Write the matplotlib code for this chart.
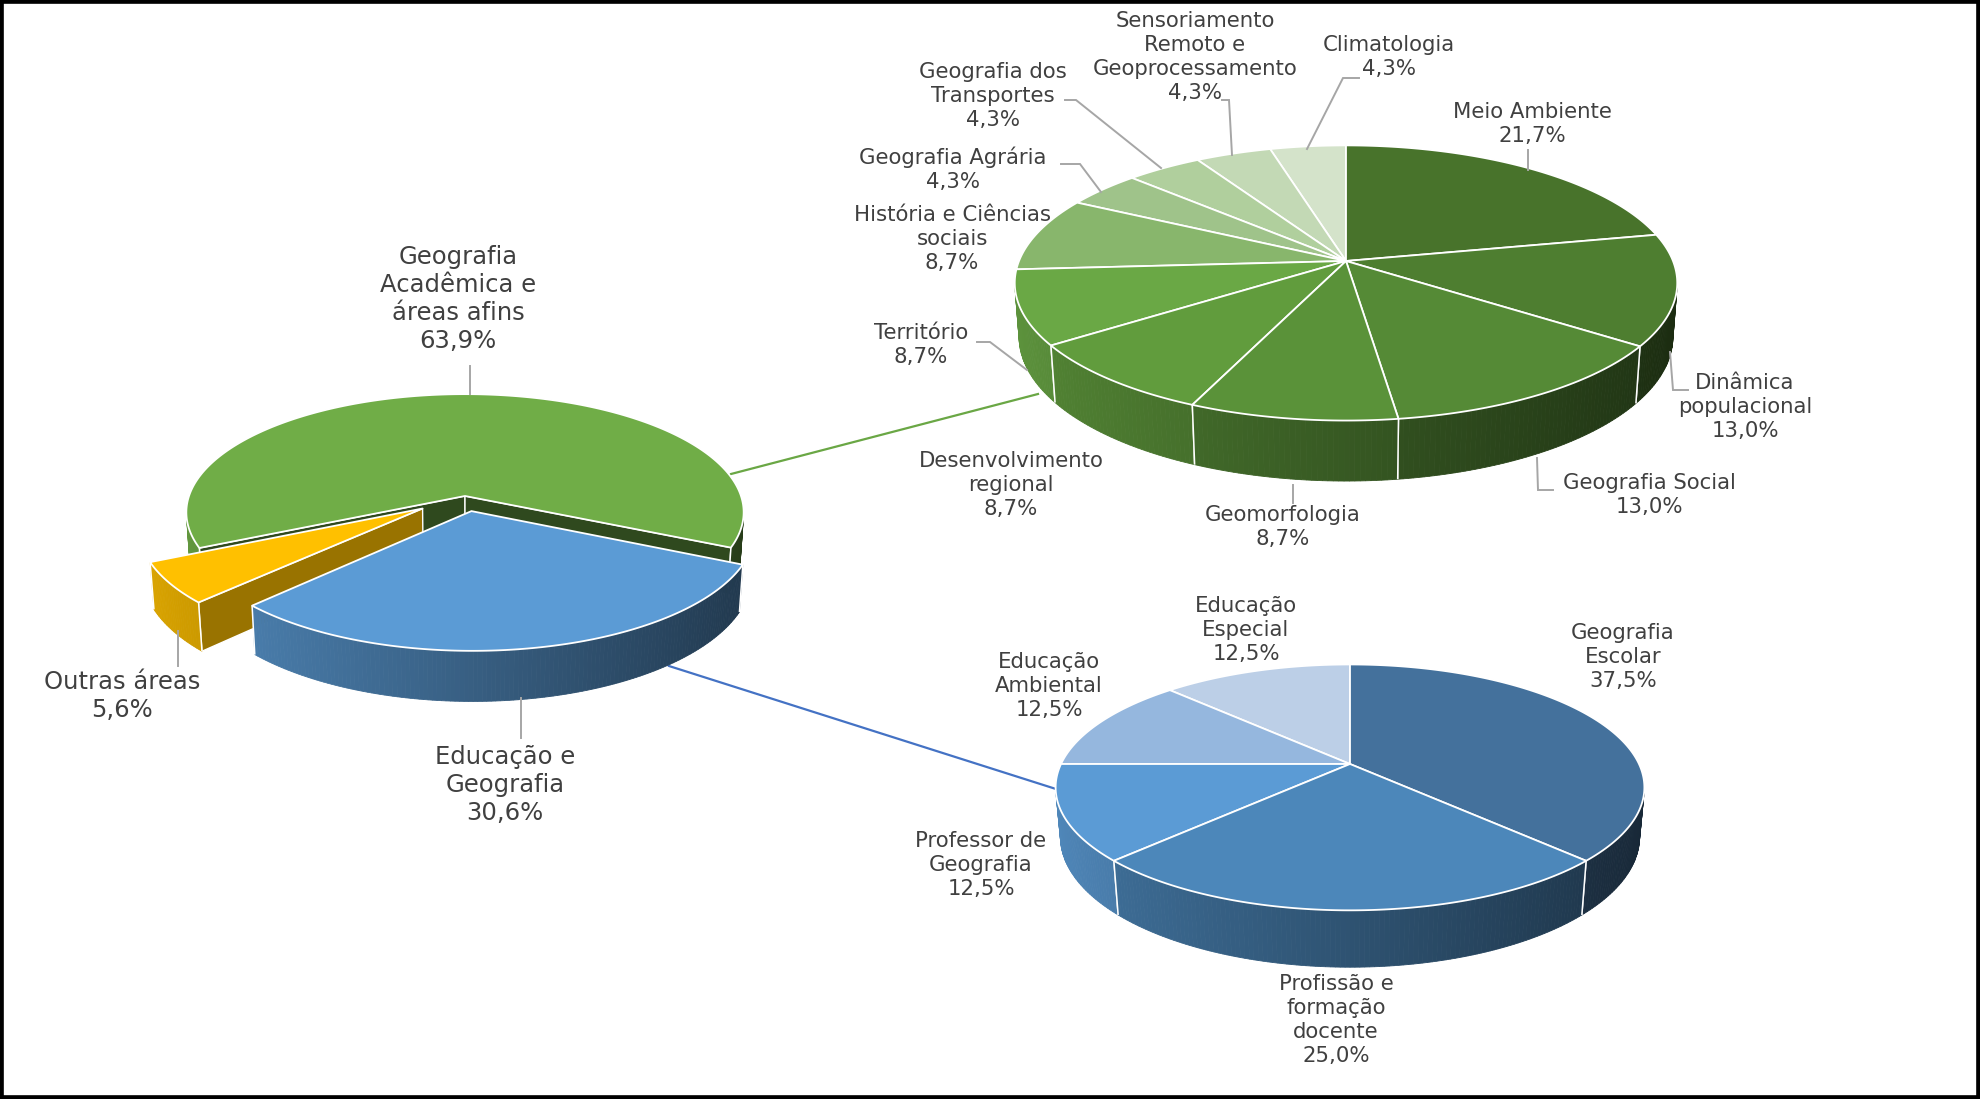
import math

import matplotlib

matplotlib.use("Agg")

import matplotlib.pyplot as plt
import numpy as np
from matplotlib.colors import to_rgb
from matplotlib.patches import Polygon, Rectangle


# ---- data -------------------------------------------------------------
MAIN_LABELS = ["Geografia\nAcadêmica e\náreas afins", "Educação e\nGeografia", "Outras áreas"]
MAIN_VALUES = [63.9, 30.6, 5.6]
MAIN_COLORS = ["#70ad47", "#5b9bd5", "#ffc000"]

ACAD_LABELS = [
    "Meio Ambiente",
    "Dinâmica\npopulacional",
    "Geografia Social",
    "Geomorfologia",
    "Desenvolvimento\nregional",
    "Território",
    "História e Ciências\nsociais",
    "Geografia Agrária",
    "Geografia dos\nTransportes",
    "Sensoriamento\nRemoto e\nGeoprocessamento",
    "Climatologia",
]
ACAD_VALUES = [21.7, 13.0, 13.0, 8.7, 8.7, 8.7, 8.7, 4.3, 4.3, 4.3, 4.3]
ACAD_COLORS = ["#48732b", "#4e7e30", "#558a36", "#5a9239", "#619c3d", "#6aa845",
               "#88b66c", "#9fc38a", "#b0cf9d", "#c3d9b5", "#d4e3ca"]

EDU_LABELS = ["Geografia\nEscolar", "Profissão e\nformação\ndocente", "Professor de\nGeografia",
              "Educação\nAmbiental", "Educação\nEspecial"]
EDU_VALUES = [37.5, 25.0, 12.5, 12.5, 12.5]
EDU_COLORS = ["#44719c", "#4c87ba", "#5b9bd5", "#95b7de", "#bccfe7"]


TEXT_COLOR = "#404040"
LEADER_COLOR = "#a6a6a6"
BIG_FONT = 17.5
SMALL_FONT = 15.3


def pct(v: float) -> str:
    return f"{v:.1f}%".replace(".", ",")


def make_pie(cx, cy, radius, sin_e, persp, height, start, explode=None, radial=None):
    ce = math.sqrt(1 - sin_e**2)
    return {
        "cx": cx, "cy": cy, "r": radius, "se": sin_e, "ce": ce,
        "d": ce * (persp + 1) / (persp - 1), "h": height, "start": start,
        "explode": explode, "radial": radial,
    }


def project(pie, x, y, z):
    depth = pie["d"] + y * pie["ce"] - z * pie["se"]
    p = pie["d"] / depth
    v = y * pie["se"] + z * pie["ce"]
    return pie["cx"] + pie["r"] * x * p, pie["cy"] - pie["r"] * v * p


def shade(color, f):
    return tuple(min(1.0, c * f) for c in to_rgb(color))


def draw_pie(ax, pie, values, colors):
    n = len(values)
    explode = pie["explode"] or [0.0] * n
    total = float(sum(values))
    edges = pie["start"] + np.concatenate([[0.0], np.cumsum(values)]) / total * 360.0
    dce = pie["d"] * pie["ce"]
    h = pie["h"]

    order = []
    for i in range(n):
        mid = math.radians((edges[i] + edges[i + 1]) / 2)
        ox, oy = explode[i] * math.sin(mid), explode[i] * math.cos(mid)
        order.append((oy + math.cos(mid), i, ox, oy))
    order.sort(key=lambda s: -s[0])

    for _, i, ox, oy in order:
        a0, a1 = math.radians(edges[i]), math.radians(edges[i + 1])
        col = colors[i]

        # cut faces, only visible when slices are pulled apart
        if any(explode):
            for a, sign in ((a0, 1), (a1, -1)):
                vis = sign * (ox * math.cos(a) - math.sin(a) * (dce + oy))
                if vis <= 0:
                    continue
                xs = np.array([ox, ox + math.sin(a), ox + math.sin(a), ox])
                ys = np.array([oy, oy + math.cos(a), oy + math.cos(a), oy])
                zs = np.array([0, 0, -h, -h])
                px, py = project(pie, xs, ys, zs)
                ax.add_patch(Polygon(np.column_stack([px, py]), closed=True,
                                     facecolor=shade(col, pie["radial"][i]),
                                     edgecolor="white", lw=1.0, zorder=1))

        # outer wall with a left-to-right shading
        steps = max(2, int(abs(math.degrees(a1 - a0)) / 0.8))
        aa = np.linspace(a0, a1, steps + 1)
        run = []
        for k in range(steps):
            am = (aa[k] + aa[k + 1]) / 2
            if -1 - ox * math.sin(am) - (dce + oy) * math.cos(am) <= 0:
                continue
            seg = np.array([aa[k], aa[k + 1]])
            xs = ox + np.sin(seg)
            ys = oy + np.cos(seg)
            tx, ty = project(pie, xs, ys, np.zeros(2))
            bx, by = project(pie, xs, ys, np.full(2, -h))
            fc = shade(col, 0.61 - 0.267 * math.sin(am))
            ax.add_patch(Polygon([(tx[0], ty[0]), (tx[1], ty[1]), (bx[1], by[1]), (bx[0], by[0])],
                                 closed=True, facecolor=fc, edgecolor=fc, lw=0.6, zorder=1))
            run.append(k)
        if run:
            for a in (aa[run[0]], aa[run[-1] + 1]):
                if min(abs(a - a0), abs(a - a1)) < 1e-9:
                    xs = np.array([ox + math.sin(a)] * 2)
                    ys = np.array([oy + math.cos(a)] * 2)
                    px, py = project(pie, xs, ys, np.array([0, -h]))
                    ax.plot(px, py, color="white", lw=1.1, solid_capstyle="butt", zorder=1)

        # top face
        aa = np.linspace(a0, a1, max(3, int(abs(math.degrees(a1 - a0)) / 0.5)))
        xs = np.concatenate([[ox], ox + np.sin(aa)])
        ys = np.concatenate([[oy], oy + np.cos(aa)])
        px, py = project(pie, xs, ys, np.zeros_like(xs))
        ax.add_patch(Polygon(np.column_stack([px, py]), closed=True, facecolor=col,
                             edgecolor="white", lw=1.3, joinstyle="round", zorder=1))


def label(ax, x, y, text, size):
    ax.text(x, y, text, ha="center", va="center", multialignment="center",
            fontsize=size, color=TEXT_COLOR, linespacing=1.21 if size > 16 else 1.27)


def leader(ax, pts):
    pts = np.array(pts)
    ax.plot(pts[:, 0], pts[:, 1], color=LEADER_COLOR, lw=1.4, solid_joinstyle="miter", zorder=2)


def main() -> None:
    plt.rcParams["font.family"] = ["DejaVu Sans"]
    fig = plt.figure(figsize=(19.8, 10.99), dpi=100)
    ax = fig.add_axes([0, 0, 1, 1])
    ax.set_xlim(0, 1980)
    ax.set_ylim(1099, 0)
    ax.axis("off")

    main_pie = make_pie(465, 496, 276, 0.42, 1.32, 0.18, 245,
                        explode=[0.0, 0.13, 0.185], radial=[0.42, 0.45, 0.6])
    acad_pie = make_pie(1346, 261, 327, 0.41, 1.38, 0.18, 0)
    edu_pie = make_pie(1350, 764, 289, 0.41, 1.47, 0.187, 0)

    # connectors between the main pie and the detail pies (behind the pies)
    ax.plot([731, 1038], [474, 394], color="#6aa745", lw=1.6, zorder=1)
    ax.plot([669, 1056], [666, 789], color="#4472c4", lw=1.6, zorder=1)

    draw_pie(ax, main_pie, MAIN_VALUES, MAIN_COLORS)
    draw_pie(ax, acad_pie, ACAD_VALUES, ACAD_COLORS)
    draw_pie(ax, edu_pie, EDU_VALUES, EDU_COLORS)

    # labels of the main pie
    main_pos = [(458, 299), (505, 785), (122, 696)]
    for (x, y), name, v in zip(main_pos, MAIN_LABELS, MAIN_VALUES):
        label(ax, x, y, f"{name}\n{pct(v)}", BIG_FONT)
    leader(ax, [(470, 366), (470, 394)])
    leader(ax, [(521, 698), (521, 738)])
    leader(ax, [(178, 631), (178, 666)])

    acad_pos = [(1532, 124), (1745, 407), (1649, 495), (1283, 527), (1011, 485), (921, 345),
                (952, 239), (953, 169), (993, 96), (1195, 57), (1389, 57)]
    for (x, y), name, v in zip(acad_pos, ACAD_LABELS, ACAD_VALUES):
        label(ax, x, y, f"{name}\n{pct(v)}", SMALL_FONT)
    leader(ax, [(1528, 150), (1528, 170)])
    leader(ax, [(1670, 352), (1673, 390), (1688, 390)])
    leader(ax, [(1537, 458), (1538, 490), (1553, 490)])
    leader(ax, [(1293, 485), (1293, 503)])
    leader(ax, [(977, 342), (990, 342), (1027, 370)])
    leader(ax, [(1061, 164), (1080, 164), (1101, 192)])
    leader(ax, [(1065, 100), (1076, 100), (1161, 168)])
    leader(ax, [(1222, 100), (1229, 100), (1232, 155)])
    leader(ax, [(1359, 78), (1343, 78), (1307, 149)])

    edu_pos = [(1623, 657), (1336, 1020), (981, 865), (1049, 686), (1246, 630)]
    for (x, y), name, v in zip(edu_pos, EDU_LABELS, EDU_VALUES):
        label(ax, x, y, f"{name}\n{pct(v)}", SMALL_FONT)

    fig.patches.append(Rectangle((0, 0), 1, 1, transform=fig.transFigure, fill=False,
                                 edgecolor="black", lw=5.5))
    fig.savefig("out.png", dpi=100, facecolor="white")
    plt.close(fig)


if __name__ == "__main__":
    main()
